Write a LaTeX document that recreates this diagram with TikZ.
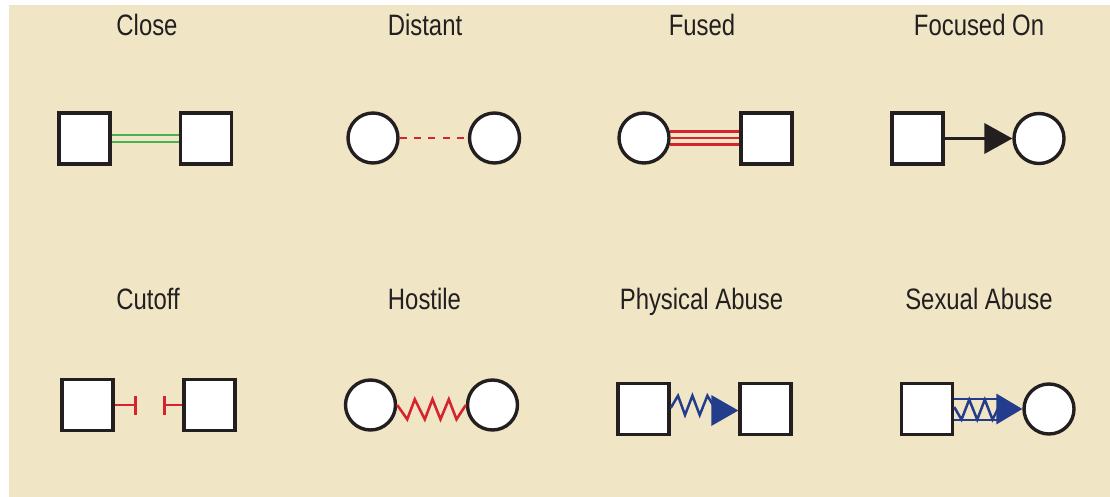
\documentclass[tikz,border=0pt]{standalone}
\usepackage{fontspec}
\setmainfont[FakeStretch=0.81]{Liberation Sans}
\usetikzlibrary{arrows.meta,calc}
\definecolor{bg}{RGB}{240,230,198}
\definecolor{ink}{RGB}{35,31,32}
\definecolor{cgreen}{RGB}{76,175,80}
\definecolor{cred}{RGB}{214,36,46}
\definecolor{cblue}{RGB}{35,60,140}
\begin{document}
\begin{tikzpicture}[x=1pt,y=-1pt,
  sq/.style={draw=ink,line width=3.4pt,fill=white,rectangle,minimum size=51pt,inner sep=0pt},
  circ/.style={draw=ink,line width=3.4pt,fill=white,circle,minimum size=50pt,inner sep=0pt},
  lbl/.style={anchor=base,text=ink,font=\fontsize{29.5}{32}\selectfont,inner sep=0pt},
  gline/.style={draw=cgreen,line width=2.8pt},
  rline/.style={draw=cred,line width=2.6pt},
  bline/.style={draw=cblue,line width=2.5pt},
  kline/.style={draw=ink,line width=2.4pt}]
\useasboundingbox (0,0) rectangle (1110,497);
\fill[bg] (9,5) rectangle (1110,497);
% labels
\node[lbl] (l1) at (147,36) {Close};
\node[lbl] (l2) at (425,36) {Distant};
\node[lbl] (l3) at (702,36) {Fused};
\node[lbl] (l4) at (979,36) {Focused On};
\node[lbl] (l5) at (148,309) {Cutoff};
\node[lbl] (l6) at (424.5,309) {Hostile};
\node[lbl] (l7) at (701.5,309) {Physical Abuse};
\node[lbl] (l8) at (979,309) {Sexual Abuse};
% Close
\node[sq] (a1) at (84.5,138.5) {};
\node[sq] (a2) at (206,138.5) {};
\draw[gline] ([yshift=3.5pt]a1.east) -- ([yshift=3.5pt]a2.west);
\draw[gline] ([yshift=-3.5pt]a1.east) -- ([yshift=-3.5pt]a2.west);
% Distant
\node[circ] (b1) at (373,138) {};
\node[circ] (b2) at (494.5,138) {};
\draw[rline,dash pattern=on 7pt off 7.3pt] (b1.east) -- (b2.west);
% Fused
\node[circ] (c1) at (644,138) {};
\node[sq] (c2) at (766.5,138.5) {};
\draw[rline] (c1.14) -- (c1.14 -| c2.west);
\draw[rline] (c1.east) -- (c1.east -| c2.west);
\draw[rline] (c1.-14) -- (c1.-14 -| c2.west);
% Focused On
\node[sq] (d1) at (917.5,138.5) {};
\node[circ] (d2) at (1039,138.5) {};
\draw[kline] (d1.east) -- ($(d2.west)+(-27,0)$);
\fill[ink] (d2.west) -- ++(-28,-15.5) -- ++(0,31) -- cycle;
% Cutoff
\node[sq] (e1) at (87.5,405) {};
\node[sq] (e2) at (209.5,405) {};
\draw[rline] (e1.east) -- ++(21,0) coordinate (e1t);
\draw[rline] ($(e1t)+(0,-9.5)$) -- ($(e1t)+(0,9.5)$);
\draw[rline] (e2.west) -- ++(-18,0) coordinate (e2t);
\draw[rline] ($(e2t)+(0,-9.5)$) -- ($(e2t)+(0,9.5)$);
% Hostile
\node[circ] (f1) at (370.5,405) {};
\node[circ] (f2) at (492.5,405) {};
\draw[rline,line join=miter] (f1.east) -- ++(10,14.3) -- ++(7.6,-20) -- ++(10,20) -- ++(7.7,-20)
  -- ++(8,20) -- ++(8.3,-20) -- ++(7.7,20) -- (f2.west);
% Physical Abuse
\node[sq] (g1) at (643.5,409) {};
\node[sq] (g2) at (765.5,409) {};
\draw[bline] ([yshift=1pt]g1.east) -- ++(7.3,-12.3) -- ++(7,19.3) -- ++(7.4,-19.3) -- ++(7.3,19.3)
  -- ++(7.7,-19.3) -- ++(6,10);
\fill[cblue] ([yshift=-1.5pt]g2.west) -- ++(-27,-15.5) -- ++(0,31) -- cycle;
% Sexual Abuse
\node[sq] (h1) at (927,409) {};
\node[circ] (h2) at (1049,409) {};
\draw[bline] ([yshift=10pt]h1.east) -- ++(45,0);
\draw[bline] ([yshift=-11pt]h1.east) -- ++(45,0);
\draw[bline] ([yshift=2pt]h1.east) -- ++(7.3,12.6) -- ++(7.7,-20) -- ++(8,20) -- ++(7.6,-20)
  -- ++(7.7,20) -- ++(6.3,-12.6);
\fill[cblue] (h2.west) -- ++(-26,-15.5) -- ++(0,31) -- cycle;
\end{tikzpicture}
\end{document}
